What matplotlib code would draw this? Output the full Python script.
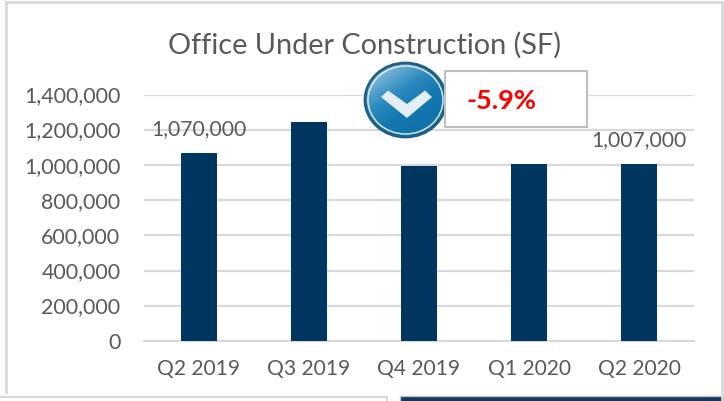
import matplotlib
matplotlib.use("Agg")
import matplotlib.pyplot as plt
from matplotlib.patches import Rectangle, Ellipse, Polygon
from matplotlib.colors import LinearSegmentedColormap
from matplotlib.transforms import ScaledTranslation
import numpy as np

categories = ["Q2 2019", "Q3 2019", "Q4 2019", "Q1 2020", "Q2 2020"]
values = [1070000, 1245000, 995000, 1005000, 1007000]
yticks = [0, 200000, 400000, 600000, 800000, 1000000, 1200000, 1400000]
title = "Office Under Construction (SF)"
callout = "-5.9%"
labelled = {0: "1,070,000", 4: "1,007,000"}
label_offsets = {0: 10.5, 4: 10.5}

W, H = 724, 402
plt.rcParams["font.family"] = ["Lato", "DejaVu Sans"]
GREY = "#595959"
fig = plt.figure(figsize=(W / 100, H / 100), dpi=100, facecolor="white")

# Chart axes
L, R, T, B = 144, 694, 95.5, 342
ax = fig.add_axes([L / W, 1 - B / H, (R - L) / W, (B - T) / H])
ax.bar(range(len(values)), values, width=0.32, color="#003660", zorder=3)
ax.set_xlim(-0.5, 4.5)
ax.set_ylim(0, 1400000)
ax.set_yticks(yticks)
ax.set_yticklabels([f"{v:,}" for v in yticks], fontsize=15.4, color=GREY, va="center")
ax.set_xticks(range(len(values)))
ax.set_xticklabels(categories, fontsize=15.1, color=GREY)
ax.tick_params(length=0, axis="y", pad=17)
ax.tick_params(length=0, axis="x", pad=12)
shift = ScaledTranslation(0, -0.8 / 100, fig.dpi_scale_trans)
for lab in ax.get_yticklabels():
    lab.set_transform(lab.get_transform() + shift)
ax.grid(axis="y", color="#D9D9D9", lw=1.6, zorder=0)
ax.set_axisbelow(True)
for name, s in ax.spines.items():
    s.set_visible(name == "bottom")
ax.spines["bottom"].set_color("#D9D9D9")
ax.spines["bottom"].set_linewidth(1.6)
for i, text in labelled.items():
    ax.annotate(text, (i, values[i]), xytext=(0, label_offsets[i]), textcoords="offset points",
                ha="center", va="bottom", fontsize=15.2, color=GREY, zorder=5,
                annotation_clip=False)

# Pixel-space overlay
ov = fig.add_axes([0, 0, 1, 1], zorder=10)
ov.set_xlim(0, W)
ov.set_ylim(H, 0)
ov.axis("off")
ov.patch.set_alpha(0)

FR = "#D9D9D9"
ov.plot([6, 6], [393, 3], color=FR, lw=2)
ov.plot([6, 722], [3, 3], color=FR, lw=2)
ov.plot([722, 722], [3, 402], color=FR, lw=2)
ov.add_patch(Rectangle((-2, 397.5), 389, 8, fc="white", ec="#D9D9D9", lw=1.5))
ov.add_patch(Rectangle((400, 396.5), 330, 8, fc="#17375E", ec="#BFBFBF", lw=1))

ov.text(365, 45, title, ha="center", va="center", fontsize=20.8, color=GREY)

# Check icon
cx, cy, rx, ry = 405.5, 101, 40.5, 37
xx, yy = np.meshgrid(np.linspace(0, 1, 80), np.linspace(0, 1, 80))
g = np.clip((xx * 0.6 + yy * 0.8) / 1.1, 0, 1)
cmap = LinearSegmentedColormap.from_list("b", ["#C2DCEC", "#6FAFD3", "#2E8BC0", "#1478B0", "#1173AB"])
im = ov.imshow(g, extent=(cx - rx, cx + rx, cy + ry, cy - ry), cmap=cmap, aspect="auto", zorder=2)
clip = Ellipse((cx, cy), 2 * rx, 2 * ry, transform=ov.transData)
im.set_clip_path(clip)
ov.set_xlim(0, W)
ov.set_ylim(H, 0)
ov.add_patch(Ellipse((cx, cy), 2 * rx, 2 * ry, fc="none", ec="#1F5F85", lw=2.0, zorder=3))
ov.add_patch(Ellipse((cx, cy), 2 * rx - 6, 2 * ry - 6, fc="none", ec="#E4F0F7", lw=1.0, zorder=3))
ov.add_patch(Polygon([(381, 98), (388, 91.5), (407, 105), (425, 91.5), (432, 98), (407, 119)],
                     fc="#E3EEF5", ec="none", zorder=4))

# Callout box
ov.add_patch(Rectangle((445, 72), 142, 56, fc="white", ec="#BFBFBF", lw=1.5, zorder=5))
ov.text(502, 101, callout, ha="center", va="center", fontsize=19.5, color="#FF0000",
        fontweight="bold", zorder=6)

fig.savefig("out.png", dpi=100)
